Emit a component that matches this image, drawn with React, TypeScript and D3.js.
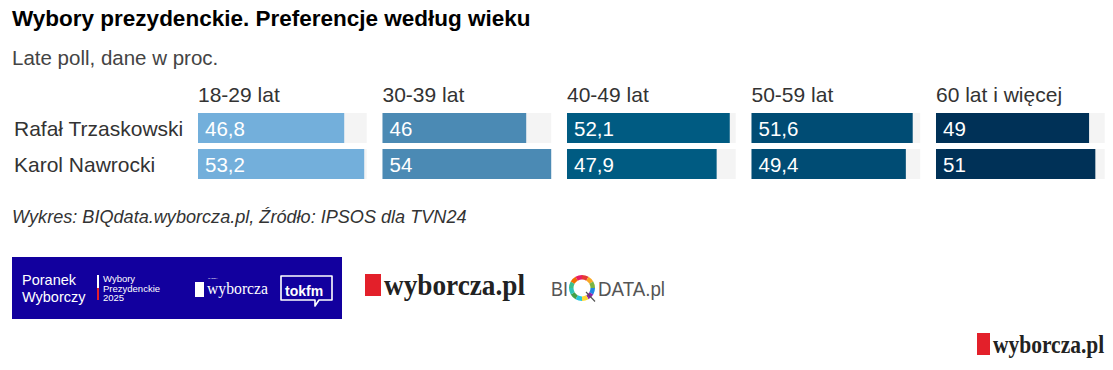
import React from "react";
import * as d3 from "d3";

const ageGroups = ["18-29 lat", "30-39 lat", "40-49 lat", "50-59 lat", "60 lat i więcej"];
const candidates = ["Rafał Trzaskowski", "Karol Nawrocki"];
const trzaskowski = [46.8, 46, 52.1, 51.6, 49];
const nawrocki = [53.2, 54, 47.9, 49.4, 51];
const groupColors = ["#73afdb", "#4b8ab4", "#005b82", "#004c74", "#003157"];
const ringColors = ["#e53935", "#f9a825", "#7cb342", "#1e88e5", "#8e24aa", "#fdd835", "#26c6da", "#43a047", "#2ec4b6", "#3dbf8a", "#ef6c00", "#e91e63"];

const FONT = "'Liberation Sans', Arial, sans-serif";

export default function App() {
  const values = [trzaskowski, nawrocki];
  const xPanel = d3.scaleBand<string>().domain(ageGroups).range([198, 1104.7]).paddingInner(0.0856).paddingOuter(0);
  const yRow = d3.scaleBand<string>().domain(candidates).range([113, 179]).paddingInner(1 / 6).paddingOuter(0);
  const maxV = d3.max([...trzaskowski, ...nawrocki]) as number;
  const x = d3.scaleLinear().domain([0, maxV]).range([0, xPanel.bandwidth()]);
  const fmt = (v: number) => String(v).replace(".", ",");

  const arc = d3.arc<any>();
  const ringN = ringColors.length;
  const ringSegs = ringColors.map((c, i) => ({
    c,
    d: arc({ innerRadius: 8.5, outerRadius: 13, startAngle: (i / ringN) * Math.PI * 2, endAngle: ((i + 1) / ringN) * Math.PI * 2 }) as string,
  }));

  return (
    <svg width={1113} height={370} style={{ position: "absolute", left: 0, top: 0, background: "#fff" }} fontFamily={FONT}>
      <text x={12} y={26} fontSize={22.5} fontWeight="bold" fill="#000">Wybory prezydenckie. Preferencje według wieku</text>
      <text x={12} y={65} fontSize={20.5} fill="#444">Late poll, dane w proc.</text>

      {ageGroups.map((g, gi) => (
        <g key={g} transform={`translate(${xPanel(g)},0)`}>
          <text x={0} y={102} fontSize={21} fill="#333">{g}</text>
          {candidates.map((c, ci) => (
            <g key={c} transform={`translate(0,${yRow(c)})`}>
              <rect x={0} y={0} width={xPanel.bandwidth()} height={yRow.bandwidth()} fill="#f4f4f4" />
              <rect x={0} y={0} width={x(values[ci][gi])} height={yRow.bandwidth()} fill={groupColors[gi]} />
              <text x={7} y={yRow.bandwidth() / 2 + 7.5} fontSize={20.5} fill="#fff">{fmt(values[ci][gi])}</text>
            </g>
          ))}
        </g>
      ))}

      {candidates.map((c) => (
        <text key={c} x={14} y={(yRow(c) as number) + yRow.bandwidth() / 2 + 7.5} fontSize={21} fill="#333">{c}</text>
      ))}

      <text x={12} y={223} fontSize={18.1} fontStyle="italic" fill="#333">Wykres: BIQdata.wyborcza.pl, Źródło: IPSOS dla TVN24</text>

      {/* Poranek Wyborczy banner */}
      <rect x={12} y={257} width={330} height={62} fill="#12009e" />
      <text x={22} y={285} fontSize={14.5} fill="#fff">Poranek</text>
      <text x={22} y={302} fontSize={14.5} fill="#fff">Wyborczy</text>
      <rect x={97} y={275} width={2} height={13} fill="#fff" />
      <rect x={97} y={288} width={2} height={12} fill="#e3202a" />
      <text x={103} y={282} fontSize={9.5} fill="#fff">Wybory</text>
      <text x={103} y={291.5} fontSize={9.5} fill="#fff">Prezydenckie</text>
      <text x={103} y={301} fontSize={9.5} fill="#fff">2025</text>
      <rect x={195} y={282} width={9} height={15} fill="#fff" />
      <text x={208} y={279} fontSize={2.5} fill="#fff">GAZETA</text>
      <text x={207} y={294} fontSize={16} fill="#fff" fontFamily="'Liberation Serif', serif" textLength={61} lengthAdjust="spacingAndGlyphs">wyborcza</text>
      <path d="M281,276 h51 v24 h-13 l-4,6 v-6 h-34 z" fill="none" stroke="#fff" strokeWidth={1.6} strokeLinejoin="round" />
      <text x={285} y={296} fontSize={14} fill="#fff" fontWeight="bold">tokfm</text>

      {/* wyborcza.pl logo */}
      <rect x={365} y={274} width={16} height={22} fill="#e3202a" />
      <text transform="translate(384,295) scale(0.94,1)" fontSize={29} fontWeight="bold" fill="#222" fontFamily="'Liberation Serif', serif">wyborcza.pl</text>

      {/* BIQDATA.pl logo */}
      <text x={551} y={296} fontSize={21} fill="#555" textLength={17} lengthAdjust="spacingAndGlyphs">BI</text>
      <g transform="translate(582,288)">
        {ringSegs.map((s, i) => <path key={i} d={s.d} fill={s.c} />)}
        <line x1={4} y1={4} x2={13} y2={13.5} stroke="#555" strokeWidth={1.2} />
      </g>
      <text x={598} y={296} fontSize={21} fill="#555" textLength={67} lengthAdjust="spacingAndGlyphs">DATA.pl</text>

      {/* bottom-right logo */}
      <rect x={977} y={333} width={13} height={22} fill="#e3202a" />
      <text transform="translate(993,353) scale(0.86,1)" fontSize={25} fontWeight="bold" fill="#222" fontFamily="'Liberation Serif', serif">wyborcza.pl</text>
    </svg>
  );
}
